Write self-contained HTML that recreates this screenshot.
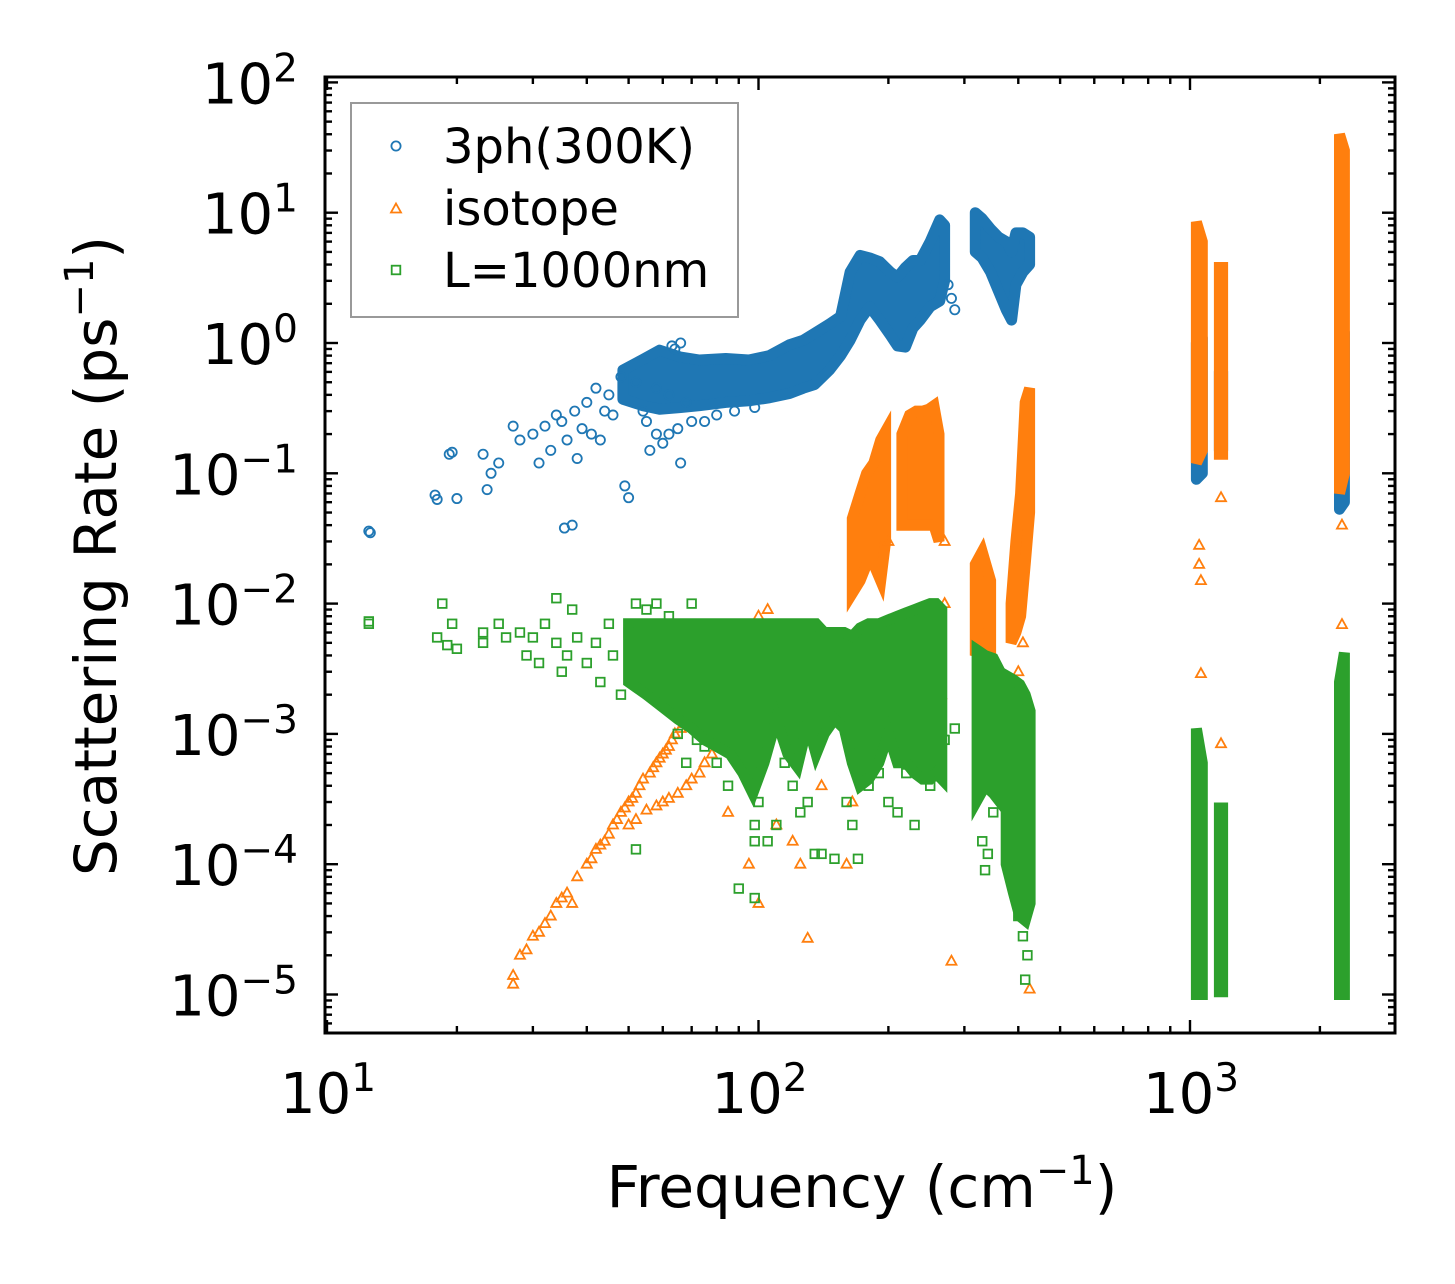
<!DOCTYPE html>
<html><head><meta charset="utf-8">
<style>
html,body{margin:0;padding:0;background:#fff;}
svg{display:block;font-family:"DejaVu Sans","Liberation Sans",sans-serif;}
</style></head>
<body>
<svg id="chart" width="1455" height="1284" viewBox="0 0 1455 1284" xmlns="http://www.w3.org/2000/svg">
<g id="marks"></g>
<g id="axes"></g>
</svg>
<script>
// ---- data ----
const xTickExps = [1, 2, 3];
const yTickExps = [2, 1, 0, -1, -2, -3, -4, -5];
const seriesNames = ["3ph(300K)", "isotope", "L=1000nm"];

// scattered individual points [freq, rate]
const bluePoints = [[12.5,0.036],[12.6,0.035],[17.8,0.068],[18,0.063],[19.2,0.14],[19.5,0.145],[20,0.064],[23,0.14],[23.5,0.075],[24,0.1],[25,0.12],[27,0.23],[28,0.18],[30,0.2],[31,0.12],[32,0.23],[33,0.15],[34,0.28],[35,0.25],[35.5,0.038],[36,0.18],[37,0.04],[37.5,0.3],[38,0.13],[39,0.22],[40,0.35],[41,0.2],[42,0.45],[43,0.18],[44,0.3],[45,0.4],[46,0.28],[48,0.55],[49,0.08],[50,0.065],[52,0.5],[54,0.3],[56,0.15],[58,0.45],[60,0.17],[62,0.4],[64,0.9],[66,0.12],[68,0.35],[55,0.25],[58,0.2],[62,0.2],[65,0.22],[70,0.25],[75,0.25],[80,0.28],[88,0.3],[98,0.32],[66,1.0],[63,0.95],[285,1.8],[280,2.2],[275,2.8]];
// dense regions: groups of [freq, lowRate, highRate]
const blueBands = [
 [[48.5,0.37,0.62],[54,0.33,0.75],[59,0.31,0.88],[66,0.32,0.78],[73,0.33,0.74],[84,0.35,0.76],[95,0.36,0.74],[106,0.38,0.8],[118,0.41,0.97],[127,0.45,1.05],[135,0.48,1.19],[146,0.62,1.4],[155,0.8,1.6],[163,1.05,3.5],[172,1.5,4.7],[181,1.9,4.5],[191,1.5,4.2],[202,1.15,3.5],[210,0.95,3.2],[219,0.93,3.8],[228,1.3,4.3],[237,1.5,4.3],[250,1.9,6],[263,2.1,8.8],[270,3,8]],
 [[318,5,10],[330,4.5,9],[345,3.5,7.5],[360,2.5,6.5],[375,1.8,6],[386,1.5,5],[395,2.8,7],[410,3.5,7],[425,4,6.5]],
 [[1035,0.09,1.0],[1068,0.1,1.1]],
 [[1170,0.15,0.6],[1190,0.15,0.6]],
 [[2220,0.053,1.4],[2280,0.06,1.2]]];

const orangePoints = [[27,1.2e-5],[27,1.4e-5],[28,2e-5],[29,2.2e-5],[30,2.8e-5],[31,3e-5],[32,3.5e-5],[33,4e-5],[34,5e-5],[35,5.5e-5],[36,6e-5],[37,5e-5],[38,8e-5],[40,1e-4],[42,1.3e-4],[44,1.5e-4],[46,2e-4],[48,2.5e-4],[50,3e-4],[52,3.5e-4],[54,4.5e-4],[56,5e-4],[58,6e-4],[60,7e-4],[62,8e-4],[64,1e-3],[66,1.1e-3],[68,1.3e-3],[70,1.5e-3],[72,1.7e-3],[41,1.1e-4],[43,1.4e-4],[45,1.7e-4],[47,2.2e-4],[49,2.7e-4],[51,3.2e-4],[53,4e-4],[57,5.5e-4],[59,6.5e-4],[61,7.5e-4],[63,9e-4],[67,1.2e-3],[69,1.4e-3],[50,2e-4],[52,2.2e-4],[55,2.6e-4],[58,2.8e-4],[60,3e-4],[62,3.2e-4],[65,3.5e-4],[68,4e-4],[70,4.5e-4],[73,5e-4],[75,6e-4],[78,7e-4],[80,9e-4],[83,1.1e-3],[85,1.5e-3],[90,3e-3],[95,5e-3],[100,8e-3],[105,9e-3],[85,2.5e-4],[95,1e-4],[100,5e-5],[110,2e-4],[120,1.5e-4],[125,1e-4],[130,2.7e-5],[140,4e-4],[160,1e-4],[165,3e-4],[160,5e-3],[200,0.03],[270,0.03],[270,0.01],[280,1.8e-5],[260,5e-3],[265,2e-3],[425,1.1e-5],[410,5e-3],[400,0.003],[1050,0.028],[1050,0.02],[1060,0.015],[1060,2.9e-3],[1180,0.065],[1180,8.4e-4],[2250,6.9e-3],[2250,0.04]];
const orangeBands = [
 [[165,0.012,0.045],[172,0.015,0.07],[178,0.02,0.1],[185,0.02,0.12],[192,0.015,0.18],[197,0.03,0.21]],
 [[215,0.04,0.2],[224,0.04,0.28],[232,0.04,0.3],[240,0.04,0.3],[248,0.04,0.31],[255,0.04,0.33],[262,0.03,0.2]],
 [[318,0.004,0.02],[330,0.005,0.025],[345,0.003,0.015]],
 [[385,0.005,0.01],[395,0.006,0.03],[405,0.008,0.07],[415,0.02,0.35],[425,0.05,0.45]],
 [[1035,0.12,8.5],[1068,0.15,6]],
 [[1170,0.14,3.8],[1190,0.14,3.8]],
 [[2220,0.07,40],[2280,0.1,30]]];

const greenPoints = [[12.5,7e-3],[12.5,7.3e-3],[18,5.5e-3],[18.5,1e-2],[19,4.8e-3],[19.5,7e-3],[20,4.5e-3],[23,6e-3],[23,5e-3],[25,7e-3],[26,5.5e-3],[28,6e-3],[29,4e-3],[30,5.5e-3],[31,3.5e-3],[32,7e-3],[34,5e-3],[34,1.1e-2],[35,3e-3],[36,4e-3],[37,9e-3],[38,5.5e-3],[40,3.5e-3],[42,5e-3],[43,2.5e-3],[45,7e-3],[46,4e-3],[48,2e-3],[50,6e-3],[52,1.3e-4],[52,1e-2],[55,9e-3],[58,1e-2],[60,2.5e-3],[62,8e-3],[65,1e-3],[68,6e-4],[70,1e-2],[72,9e-4],[75,8e-4],[80,6e-4],[85,4e-4],[90,6.5e-5],[98,5.5e-5],[100,3e-4],[105,1.5e-4],[110,2e-4],[115,6e-4],[120,4e-4],[125,2.5e-4],[130,3e-4],[135,1.2e-4],[140,1.2e-4],[150,1.1e-4],[160,3e-4],[165,2e-4],[170,1.1e-4],[180,4e-4],[190,5e-4],[200,3e-4],[210,2.5e-4],[220,5e-4],[230,2e-4],[240,5e-4],[250,4e-4],[260,5e-4],[270,9e-4],[285,1.1e-3],[98,1.5e-4],[98,2e-4],[330,1.5e-4],[335,9e-5],[340,1.2e-4],[350,2.5e-4],[400,4e-5],[410,2.8e-5],[415,1.3e-5],[420,2e-5]];
const greenBands = [
 [[50,2.5e-3,7e-3],[55,2e-3,7e-3],[60,1.6e-3,7e-3],[65,1.3e-3,7e-3],[70,1.1e-3,7e-3],[75,9e-4,7e-3],[80,8e-4,7e-3],[86,7e-4,7e-3],[92,5e-4,7e-3],[97,3.5e-4,7e-3],[103,6e-4,7e-3],[110,1.3e-3,7e-3],[117,7e-4,7e-3],[123,5.6e-4,7e-3],[130,1.2e-3,7e-3],[136,7e-4,7e-3],[142,1e-3,6e-3],[150,1.3e-3,6e-3],[158,1.1e-3,6e-3],[165,6e-4,5.6e-3],[172,4e-4,6.5e-3],[180,4.5e-4,7e-3],[190,6e-4,7e-3],[200,1e-3,7.5e-3],[210,6e-4,8e-3],[220,6e-4,8.5e-3],[230,5e-4,9e-3],[240,4.5e-4,9.5e-3],[250,4.5e-4,1e-2],[258,5e-4,1e-2],[266,4.5e-4,9e-3]],
 [[321,3.1e-4,4.4e-3],[335,4e-4,4e-3],[350,3.5e-4,3.8e-3],[363,3e-4,3e-3]],
 [[375,1e-4,2.8e-3],[390,6e-5,2.6e-3],[403,4e-5,2.4e-3],[415,3.7e-5,2e-3],[426,5e-5,1.5e-3]],
 [[1035,1e-5,1.1e-3],[1068,1e-5,6e-4]],
 [[1170,1.05e-5,2.7e-4],[1190,1.05e-5,2.7e-4]],
 [[2220,1e-5,2.5e-3],[2280,1e-5,4.2e-3]]];

// ---- axis functions ----
const X0 = 327, XD = 431.5, Y0 = 343, YD = 130.3;
const L = 325, R = 1395, T = 77, B = 1033;
const sx = f => X0 + XD * (Math.log10(f) - 1);
const sy = r => Y0 - YD * Math.log10(r);
const NS = "http://www.w3.org/2000/svg";
const marks = document.getElementById("marks");
const axes = document.getElementById("axes");
const colors = ["#1f77b4", "#ff7f0e", "#2ca02c"];
function mk(tag, attrs, parent) {
  const e = document.createElementNS(NS, tag);
  for (const k in attrs) e.setAttribute(k, attrs[k]);
  parent.appendChild(e);
  return e;
}
function marker(kind, cx, cy, parent) {
  let e;
  if (kind === 0) e = mk("circle", {cx: cx, cy: cy, r: 4.6, fill: "none", stroke: colors[0], "stroke-width": 1.8}, parent);
  else if (kind === 1) e = mk("polygon", {points: `${cx},${cy-5.5} ${cx+5},${cy+3.5} ${cx-5},${cy+3.5}`, fill: "none", stroke: colors[1], "stroke-width": 1.8}, parent);
  else e = mk("rect", {x: cx-4.3, y: cy-4.3, width: 8.6, height: 8.6, fill: "none", stroke: colors[2], "stroke-width": 1.8}, parent);
  return e;
}
const clip = mk("clipPath", {id: "pc"}, marks);
mk("rect", {x: L, y: T, width: R-L, height: B-T}, clip);
marks.setAttribute("clip-path", "url(#pc)");
const allSeries = [[bluePoints, blueBands], [orangePoints, orangeBands], [greenPoints, greenBands]];
allSeries.forEach((s, k) => {
  const g = mk("g", {}, marks);
  
  
  s[1].forEach(grp => {
    const top = grp.map(b => `${sx(b[0]).toFixed(1)},${sy(b[2]).toFixed(1)}`);
    const bot = grp.slice().reverse().map(b => `${sx(b[0]).toFixed(1)},${sy(b[1]).toFixed(1)}`);
    const poly = mk("polygon", {points: top.concat(bot).join(" "), fill: colors[k], stroke: colors[k], "stroke-width": 11, "stroke-linejoin": k === 0 ? "round" : "miter"}, g);
    
    
  });
  s[0].forEach(p => {
    const m = marker(k, sx(p[0]), sy(p[1]), g);
    
    
  });
});

// ---- axes ----
const frame = mk("rect", {x: L, y: T, width: R-L, height: B-T, fill: "none", stroke: "#000", "stroke-width": 3}, axes);


function tick(x1, y1, x2, y2) { mk("line", {x1, y1, x2, y2, stroke: "#000", "stroke-width": 2.4}, axes); }
for (let e = 1; e <= 3; e++) for (let m = 1; m <= 9; m++) {
  const x = sx(m * Math.pow(10, e));
  if (x < L || x > R) continue;
  const len = m === 1 ? 13 : 7;
  tick(x, B, x, B - len); tick(x, T, x, T + len);
}
for (let e = -6; e <= 2; e++) for (let m = 1; m <= 9; m++) {
  const y = sy(m * Math.pow(10, e));
  if (y < T - 0.5 || y > B + 0.5) continue;
  const len = m === 1 ? 13 : 7;
  tick(L, y, L + len, y); tick(R, y, R - len, y);
}
xTickExps.forEach(e => {
  const t = mk("text", {x: sx(Math.pow(10, e)) + 1, y: 1113, "font-size": 56, "text-anchor": "middle"}, axes);
  t.textContent = "10";
  const s = mk("tspan", {dy: -22, "font-size": 39}, t);
  s.textContent = e;
  
  
});
yTickExps.forEach(e => {
  const y = sy(Math.pow(10, e)) + 21;
  const t = mk("text", {x: 298, y: y, "font-size": 56, "text-anchor": "end"}, axes);
  t.textContent = "10";
  const s = mk("tspan", {dy: -22, "font-size": 39}, t);
  s.textContent = e < 0 ? "\u2212" + (-e) : e;
  
  
});
</script>
<svg style="position:absolute;left:0;top:0" width="1455" height="1284">
<text x="862" y="1207" font-size="58" text-anchor="middle" font-family="DejaVu Sans, Liberation Sans, sans-serif">Frequency (cm<tspan dy="-23" font-size="40">−1</tspan><tspan dy="23">)</tspan></text>
<text transform="translate(116,556) rotate(-90)" font-size="58" text-anchor="middle" font-family="DejaVu Sans, Liberation Sans, sans-serif">Scattering Rate (ps<tspan dy="-23" font-size="40">−1</tspan><tspan dy="23">)</tspan></text>
<g>
<rect x="351" y="103" width="387" height="214" fill="#fff" fill-opacity="0.8" stroke="#999" stroke-width="2"/>
<circle cx="396" cy="146" r="4.6" fill="none" stroke="#1f77b4" stroke-width="1.8"/>
<text x="443" y="163" font-size="48" font-family="DejaVu Sans, Liberation Sans, sans-serif">3ph(300K)</text>
<polygon points="396,203.5 401,212.5 391,212.5" fill="none" stroke="#ff7f0e" stroke-width="1.8"/>
<text x="443" y="225" font-size="48" font-family="DejaVu Sans, Liberation Sans, sans-serif">isotope</text>
<rect x="391.7" y="265.7" width="8.6" height="8.6" fill="none" stroke="#2ca02c" stroke-width="1.8"/>
<text x="443" y="287" font-size="48" font-family="DejaVu Sans, Liberation Sans, sans-serif">L=1000nm</text>
</g>
</svg>
</body></html>
